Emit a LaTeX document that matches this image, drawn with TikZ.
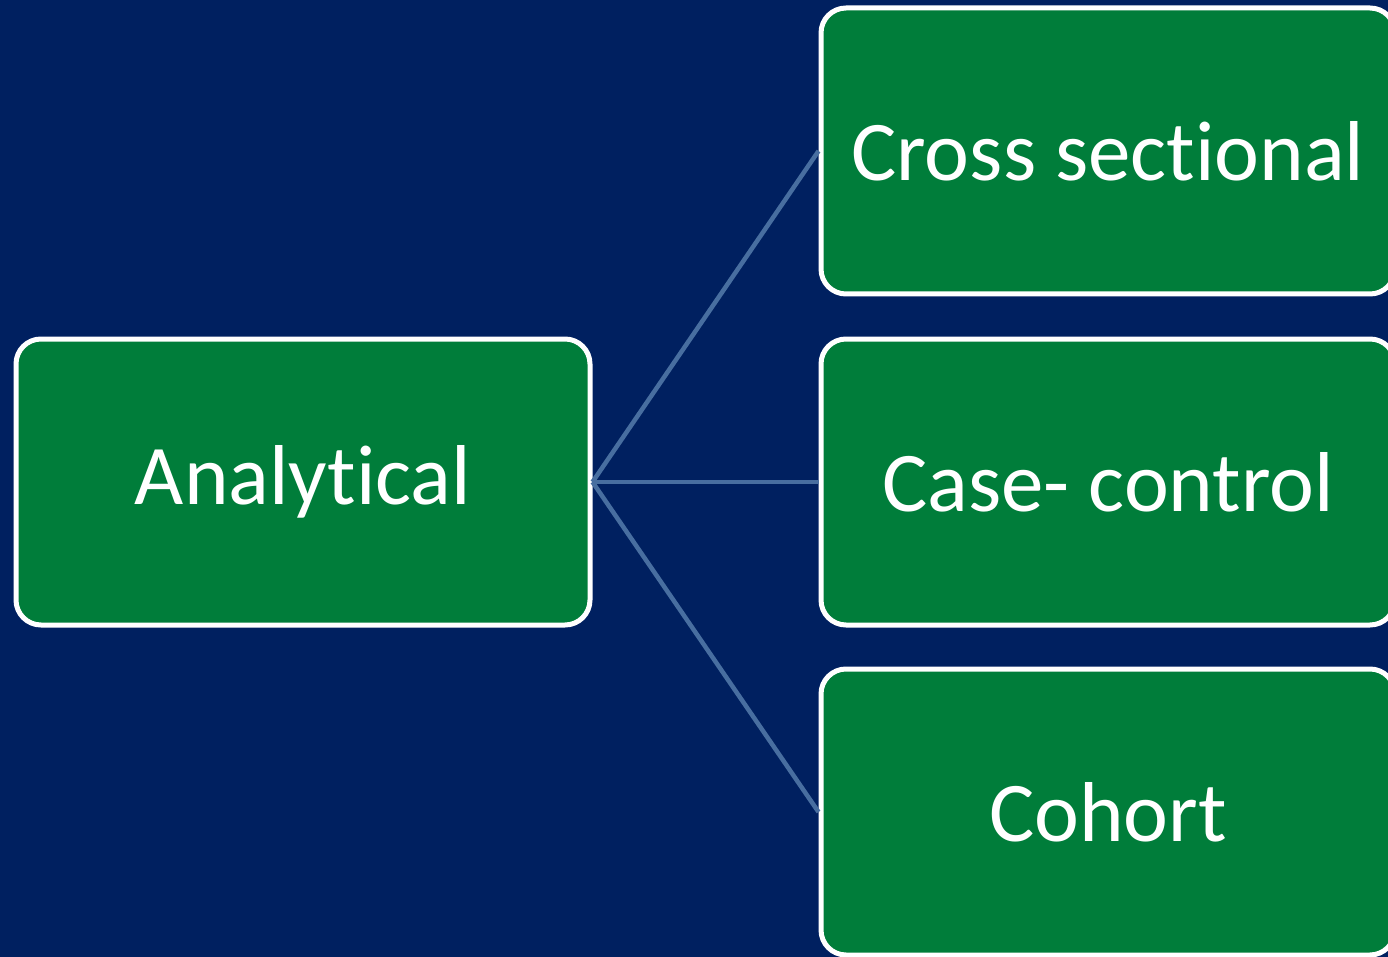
\documentclass[tikz,border=0pt]{standalone}
\usepackage{fontspec}
\setmainfont[Ligatures={NoCommon}]{Carlito}
\definecolor{navybg}{RGB}{0,32,96}
\definecolor{boxgreen}{RGB}{0,125,58}
\definecolor{linkblue}{RGB}{72,110,160}
\begin{document}
\begin{tikzpicture}[x=1pt,y=-1pt,
  card/.style={draw=white, line width=5pt, fill=boxgreen, rounded corners=25pt,
    minimum width=574pt, minimum height=286pt, inner sep=0pt,
    text=white, font=\fontsize{85}{100}\selectfont},
  link/.style={draw=linkblue, line width=4.5pt}]
  % background
  \fill[navybg] (0,0) rectangle (1388,957);
  \useasboundingbox (0,0) rectangle (1388,957);
  % boxes
  \node[card] (analytical) at (303,482) {Analytical};
  \node[card] (cross) at (1108,151) {Cross sectional};
  \node[card] (casecontrol) at (1108,482) {Case- control};
  \node[card] (cohort) at (1108,812) {Cohort};
  % connectors
  \draw[link] (analytical.east) -- (cross.west);
  \draw[link] (analytical.east) -- (casecontrol.west);
  \draw[link] (analytical.east) -- (cohort.west);
\end{tikzpicture}
\end{document}
